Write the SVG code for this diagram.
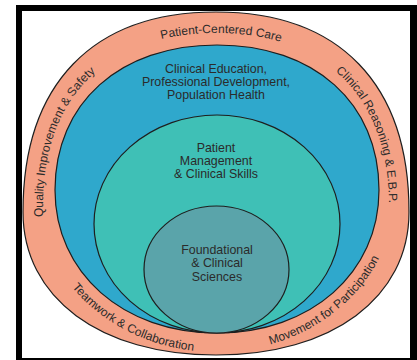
<svg xmlns="http://www.w3.org/2000/svg" width="417" height="360" viewBox="0 0 417 360">
<style>
.ring{stroke:#1e1e1e;stroke-width:1.2}
.t{font-family:"Liberation Sans",Arial,sans-serif;font-size:12px;fill:#2b2b2b}
.l{font-size:12.4px}
.c{text-anchor:middle}
</style>
<defs>
<path id="topPath" d="M 43,300 L 43,205 C 43,98 106,33 216,33 C 326,33 389,98 389,205 L 389,300" fill="none"/>
<path id="botPath" d="M 36,190 A 180,162 0 0 0 396,190" fill="none"/>
</defs>
<rect x="16" y="5" width="401" height="355" fill="#000"/>
<rect x="22" y="11" width="388" height="347" fill="#fff"/>
<g id="outer-ring">
<path class="ring" fill="#F4A185" d="M 23,212 C 23,84 92.5,12 216,12 C 339.5,12 409,84 409,212 C 409,297.8 331.8,355 216,355 C 100.2,355 23,297.8 23,212 Z"/>
<text class="t"><textPath href="#topPath" startOffset="83">Quality Improvement &amp; Safety</textPath></text>
<text class="t c"><textPath href="#topPath" startOffset="377">Patient-Centered Care</textPath></text>
<text class="t"><textPath href="#topPath" startOffset="500">Clinical Reasoning &amp; E.B.P.</textPath></text>
<text class="t c"><textPath href="#botPath" startOffset="176">Teamwork &amp; Collaboration</textPath></text>
<text class="t c"><textPath href="#botPath" startOffset="395">Movement for Participation</textPath></text>
</g>
<g id="blue-ring">
<path class="ring" fill="#2FA8CC" d="M 55,190 C 55,103 119.8,45 217,45 C 314.2,45 379,103 379,190 C 379,273 311,333 217,333 C 123,333 55,273 55,190 Z"/>
<text class="t l c" x="216" y="73">Clinical Education,</text>
<text class="t l c" x="216" y="86">Professional Development,</text>
<text class="t l c" x="216" y="99">Population Health</text>
</g>
<g id="teal-ring">
<ellipse class="ring" fill="#3FC0B6" cx="217" cy="224" rx="123" ry="109"/>
<text class="t l c" x="216" y="152">Patient</text>
<text class="t l c" x="216" y="165">Management</text>
<text class="t l c" x="216" y="178">&amp; Clinical Skills</text>
</g>
<g id="core">
<ellipse class="ring" fill="#5AA4AA" cx="216.5" cy="269.5" rx="72.5" ry="63.5"/>
<text class="t l c" x="217" y="254">Foundational</text>
<text class="t l c" x="217" y="267">&amp; Clinical</text>
<text class="t l c" x="217" y="281">Sciences</text>
</g>
<g id="connectors"/>
</svg>
